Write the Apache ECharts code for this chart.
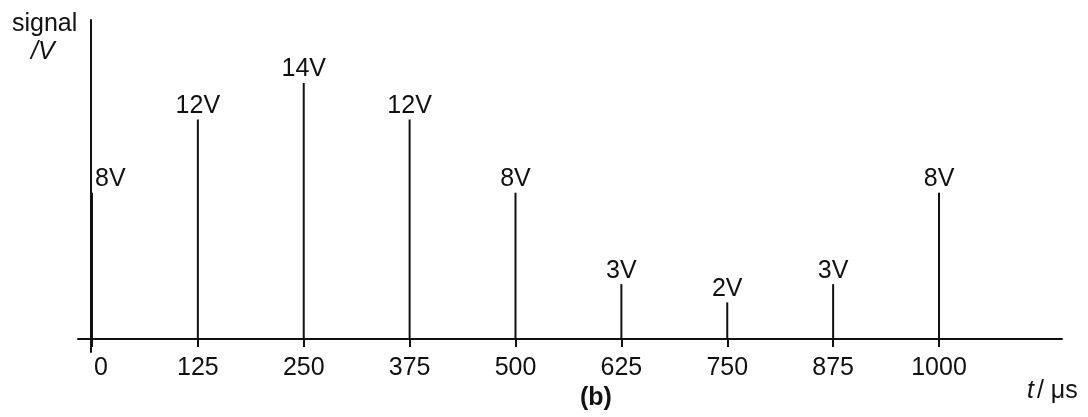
<!DOCTYPE html>
<html>
<head>
<meta charset="utf-8">
<script src="https://cdn.jsdelivr.net/npm/echarts@6/dist/echarts.min.js"></script>
<style>html,body{margin:0;padding:0;background:#fff;}#c{width:1088px;height:417px;}</style>
</head>
<body>
<div id="c"></div>
<script>
// Data
const times = [0, 125, 250, 375, 500, 625, 750, 875, 1000];
const signalV = [8, 12, 14, 12, 8, 3, 2, 3, 8];
const tickLabels = [0, 125, 250, 375, 500, 625, 750, 875, 1000];
const yTitle = 'signal';
const yUnit = '/V';

const INK = '#111';
const FONT = '"Liberation Sans", Arial, sans-serif';
const FS = 25;

const seriesData = times.map((t, i) => {
  const item = { value: [t, signalV[i]] };
  if (i === 0) {
    item.label = { position: [4, -26] };
    item.itemStyle = { borderColor: INK, borderWidth: 1.2 };
  }
  return item;
});

const chart = echarts.init(document.getElementById('c'), null, { renderer: 'canvas' });
chart.setOption({
  animation: false,
  backgroundColor: '#fff',
  grid: { left: 78, right: 26, top: 20, bottom: 65, containLabel: false },
  xAxis: {
    type: 'value',
    min: -16.5,
    max: 1145.2,
    axisLine: { show: true, onZero: true, lineStyle: { color: INK, width: 2 } },
    axisTick: { show: true, customValues: tickLabels, length: 8, inside: false, lineStyle: { color: INK, width: 2 } },
    axisLabel: {
      show: true,
      customValues: tickLabels,
      margin: 4,
      color: INK,
      fontFamily: FONT,
      fontSize: FS,
      formatter: v => (v === 0 ? '{z|0}' : String(v)),
      rich: { z: { fontFamily: FONT, fontSize: FS, color: INK, padding: [0, 0, 0, 18] } }
    },
    splitLine: { show: false }
  },
  yAxis: {
    type: 'value',
    min: -0.711,
    max: 17.44,
    position: 'left',
    offset: -12.5,
    axisLine: { show: true, onZero: false, lineStyle: { color: INK, width: 2 } },
    axisTick: { show: false },
    axisLabel: { show: false },
    splitLine: { show: false }
  },
  series: [{
    type: 'bar',
    barWidth: 2,
    data: seriesData,
    itemStyle: { color: INK },
    label: {
      show: true,
      position: 'top',
      distance: 1,
      color: INK,
      fontFamily: FONT,
      fontSize: FS,
      formatter: p => p.value[1] + 'V'
    }
  }],
  graphic: [
    { type: 'text', left: 12, top: 12, style: { text: yTitle, font: FS + 'px ' + FONT, fill: INK } },
    { type: 'text', left: 31, top: 40, style: { text: yUnit, font: 'italic ' + FS + 'px ' + FONT, fill: INK } },
    { type: 'text', left: 1027, top: 379, style: {
        text: '{i|t}{n|/ μs}',
        rich: {
          i: { font: 'italic ' + FS + 'px ' + FONT, fill: INK, padding: [0, 3, 0, 0] },
          n: { font: FS + 'px ' + FONT, fill: INK }
        }
    } },
    { type: 'text', left: 580, top: 386, style: { text: '(b)', font: 'bold ' + FS + 'px ' + FONT, fill: INK } }
  ]
});
</script>
</body>
</html>
